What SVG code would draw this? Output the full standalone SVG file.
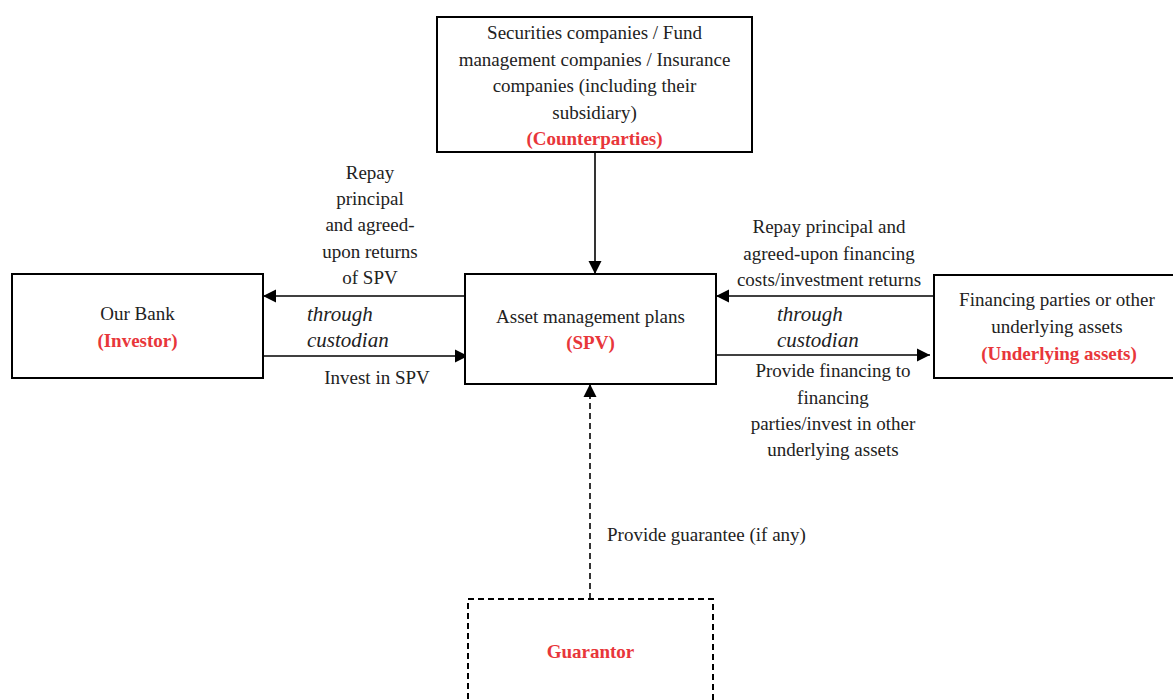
<svg xmlns="http://www.w3.org/2000/svg" width="1173" height="700" viewBox="0 0 1173 700">
<defs>
<marker id="ah" markerUnits="userSpaceOnUse" markerWidth="14" markerHeight="14" viewBox="0 0 14 14" refX="13" refY="7" orient="auto">
<path d="M0,0.5 L13,7 L0,13.5 Z" fill="#000"/>
</marker>
<style>
.box{fill:#fff;stroke:#000;stroke-width:2}
.dbox{fill:#fff;stroke:#000;stroke-width:2;stroke-dasharray:6,4}
.ln{fill:none;stroke:#000;stroke-width:1.6}
.dln{fill:none;stroke:#000;stroke-width:1.6;stroke-dasharray:6,4}
text{font-family:"Liberation Serif","Times New Roman",serif;font-size:19px;fill:#222}
.c{text-anchor:middle}
.r{font-weight:bold;fill:#e8363a}
.i{font-style:italic;font-size:21px}
</style>
</defs>
<rect width="1173" height="700" fill="#fff"/>
<g id="connectors">
<line class="ln" x1="595" y1="152" x2="595" y2="274" marker-end="url(#ah)"/>
<line class="ln" x1="465" y1="296" x2="263" y2="296" marker-end="url(#ah)"/>
<line class="ln" x1="263" y1="356" x2="468" y2="356" marker-end="url(#ah)"/>
<line class="ln" x1="934" y1="296" x2="716" y2="296" marker-end="url(#ah)"/>
<line class="ln" x1="716" y1="355" x2="930" y2="355" marker-end="url(#ah)"/>
<line class="dln" x1="590" y1="599" x2="590" y2="384" marker-end="url(#ah)"/>
<text class="c" x="370" y="179">Repay</text>
<text class="c" x="370" y="205">principal</text>
<text class="c" x="370" y="231">and agreed-</text>
<text class="c" x="370" y="258">upon returns</text>
<text class="c" x="370" y="284">of SPV</text>
<text class="i" x="307" y="321">through</text>
<text class="i" x="307" y="347">custodian</text>
<text class="c" x="377" y="384">Invest in SPV</text>
<text class="c" x="829" y="233">Repay principal and</text>
<text class="c" x="829" y="260">agreed-upon financing</text>
<text class="c" x="829" y="286">costs/investment returns</text>
<text class="i" x="777" y="321">through</text>
<text class="i" x="777" y="347">custodian</text>
<text class="c" x="833" y="377">Provide financing to</text>
<text class="c" x="833" y="404">financing</text>
<text class="c" x="833" y="430">parties/invest in other</text>
<text class="c" x="833" y="456">underlying assets</text>
<text x="607" y="541">Provide guarantee (if any)</text>
</g>
<g id="counterparties">
<rect class="box" x="437" y="17" width="315" height="135"/>
<text class="c" x="594.5" y="39">Securities companies / Fund</text>
<text class="c" x="594.5" y="66">management companies / Insurance</text>
<text class="c" x="594.5" y="92">companies (including their</text>
<text class="c" x="594.5" y="119">subsidiary)</text>
<text class="c r" x="594.5" y="145">(Counterparties)</text>
</g>
<g id="investor">
<rect class="box" x="12" y="274" width="251" height="104"/>
<text class="c" x="137.5" y="320">Our Bank</text>
<text class="c r" x="137.5" y="347">(Investor)</text>
</g>
<g id="spv">
<rect class="box" x="465" y="274" width="251" height="110"/>
<text class="c" x="590.5" y="323">Asset management plans</text>
<text class="c r" x="590.5" y="349">(SPV)</text>
</g>
<g id="underlying">
<rect class="box" x="934" y="275" width="250" height="103"/>
<text class="c" x="1057" y="306">Financing parties or other</text>
<text class="c" x="1057" y="333">underlying assets</text>
<text class="c r" x="1059" y="360">(Underlying assets)</text>
</g>
<g id="guarantor">
<rect class="dbox" x="468" y="599" width="245" height="130"/>
<text class="c r" x="590.5" y="658">Guarantor</text>
</g>
</svg>
